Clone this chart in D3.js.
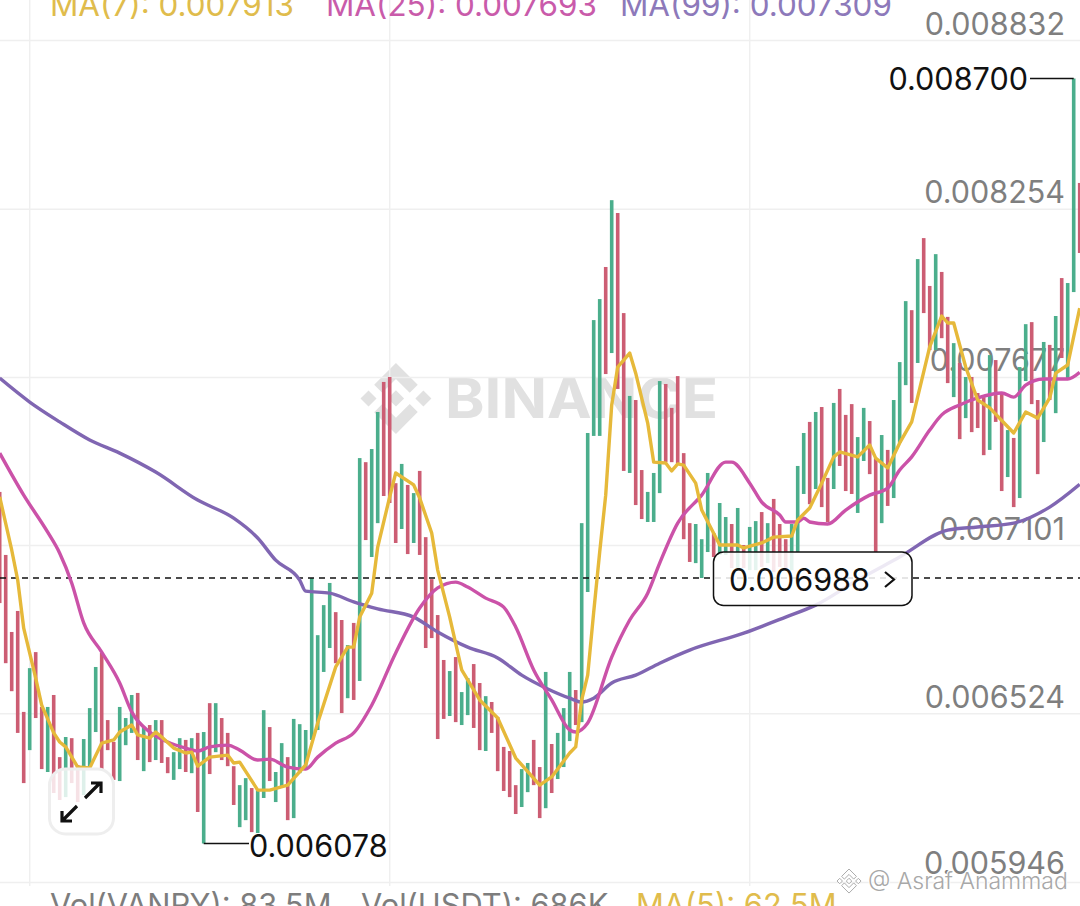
<!DOCTYPE html>
<html><head><meta charset="utf-8">
<style>html,body{margin:0;padding:0;background:#fff;overflow:hidden}svg{display:block}text{font-family:Inter,"Noto Sans",sans-serif}</style>
<script src="https://cdn.jsdelivr.net/npm/d3@7/dist/d3.min.js"></script>
</head><body><svg id="c" width="1080" height="906"></svg>
<script>
// prices are in millionths (0.006078 -> 6078)
const candleHigh=[7283,7067,6803,6875,6529,6679,6734,6546,6546,6587,
6374,6443,6439,6347,6436,6542,6683,6731,6501,6426,
6546,6508,6587,6594,6477,6484,6501,6501,6374,6391,
6439,6433,6439,6457,6460,6559,6559,6508,6457,6343,
6278,6302,6268,6261,6535,6477,6323,6422,6374,6505,
6487,6467,6988,6792,6895,6971,6871,6844,6758,6834,
7399,7385,7430,7557,7660,7677,7313,7379,7307,7279,
7355,7128,6984,6861,6707,6669,6717,6597,6645,6693,
6628,6583,6563,6511,6409,6395,6278,6333,6354,6433,
6340,6666,6419,6457,6542,6666,6604,7176,7485,7872,
7944,8054,8283,8239,7896,7612,7598,7358,7283,7348,
7663,7653,7571,7680,7416,7176,7173,7121,7348,7142,
7245,7197,7173,7228,7101,7163,7183,7214,7176,7259,
7173,7121,7173,7372,7485,7523,7557,7574,7331,7588,
7636,7547,7584,7471,7571,7526,7399,7478,7427,7598,
7728,7937,7906,8081,8153,7989,8098,8037,7883,7793,
7725,7677,7677,7622,7608,7752,7735,7622,7495,7468,
7711,7858,7865,7598,7797,7787,7886,8016,7999,8700,8342];
const candleLow=[6902,6696,6600,6457,6285,6398,6508,6333,6323,6251,
6227,6237,6285,6220,6244,6340,6460,6330,6398,6296,
6292,6415,6457,6364,6326,6357,6364,6354,6319,6296,
6333,6323,6319,6186,6078,6316,6391,6364,6343,6210,
6134,6158,6117,6114,6234,6292,6220,6271,6158,6165,
6319,6330,6433,6467,6666,6748,6696,6525,6576,6570,
6635,7118,7060,7176,7269,7245,7108,7156,7070,7108,
7067,6748,6782,6436,6505,6515,6494,6484,6518,6474,
6398,6395,6457,6326,6258,6237,6179,6203,6254,6278,
6165,6199,6251,6299,6340,6429,6484,6494,6940,7475,
7475,7687,7759,7636,7355,7348,7238,7190,7180,7180,
7279,7385,7385,7382,7121,7043,7039,6988,7077,7060,
7067,7067,7022,7022,7022,7015,7015,7026,7039,7008,
7026,7015,7015,7077,7276,7241,7293,7231,7180,7293,
7372,7286,7276,7211,7389,7344,7077,7176,7235,7262,
7451,7649,7588,7725,7896,7769,7769,7810,7656,7608,
7464,7536,7488,7502,7409,7427,7523,7286,7334,7231,
7262,7663,7584,7344,7454,7598,7553,7742,7673,7968,8102];
const candleDir=("rrrrrgrrgr"+"rgrrgggrrr"+"gggrgrgrrg"+"grgrgrgrrr"+"ggrggrggrg"+
"ggggggrrgr"+"grggrrrgrg"+"rrrrrgrggr"+"rgrrrrrggr"+"rgrgggrggg"+
"grgrrgrrgg"+"grrrrrgggr"+"ggrgrggrgr"+"rrgggrgrrg"+"rrrggrrgrg"+
"ggrgrrgrrg"+"rgrrrgrrgr"+"ggrrgrgrggr").split("");

const ma7Idx=[0,2,3,4,6,7,9,10,11,13,15,17,19,20,22,23,25,26,27,29,31,32,33,35,38,39,40,43,45,48,51,53,56,58,59,60,62,63,65,66,69,70,72,73,75,77,80,83,86,90,92,95,96,97,98,99,100,101,102,103,105,106,108,109,111,112,113,114,116,117,120,123,124,127,129,132,133,135,137,139,140,143,145,146,148,150,152,155,157,158,159,161,163,165,169,171,173,175,176,178,180];
const ma7Val=[7266,7084,6981,6816,6645,6552,6457,6426,6409,6340,6337,6422,6433,6460,6484,6450,6439,6460,6443,6405,6388,6391,6343,6374,6381,6354,6357,6261,6261,6278,6347,6491,6683,6751,6751,6854,6936,7094,7266,7348,7307,7262,7142,7015,6854,6673,6570,6508,6371,6278,6306,6388,6409,6570,6655,6871,7077,7272,7581,7711,7759,7690,7519,7385,7382,7355,7379,7375,7313,7221,7101,7101,7091,7108,7128,7132,7187,7228,7313,7403,7420,7403,7444,7399,7365,7451,7523,7780,7886,7862,7862,7711,7598,7571,7485,7557,7536,7605,7690,7718,7913];

const ma25Idx=[0,4,8,10,12,14,17,20,22,25,28,31,33,35,38,40,43,45,48,51,53,56,59,62,66,70,73,76,78,81,84,86,89,92,95,96,98,102,105,108,110,113,117,121,122,125,127,130,131,133,134,135,138,141,145,148,150,152,155,157,160,163,167,169,171,174,178,180];
const ma25Val=[7416,7272,7145,7073,6971,6834,6734,6628,6529,6460,6426,6405,6395,6409,6415,6398,6364,6367,6340,6333,6374,6422,6457,6552,6731,6885,6954,6974,6957,6919,6888,6820,6673,6570,6467,6460,6491,6717,6844,6936,7039,7176,7272,7385,7385,7313,7248,7204,7180,7180,7193,7180,7173,7221,7272,7296,7358,7403,7495,7547,7581,7605,7622,7608,7649,7670,7670,7693];

const ma99Idx=[0,5,10,15,20,26,33,39,43,46,50,51,55,59,63,69,73,78,83,87,91,95,97,99,102,106,110,115,124,131,136,143,150,158,163,169,175,180];
const ma99Val=[7673,7591,7523,7461,7416,7351,7255,7193,7125,7049,6981,6943,6936,6906,6882,6854,6803,6751,6714,6655,6611,6576,6563,6576,6628,6655,6696,6741,6799,6854,6895,6981,7060,7152,7163,7176,7231,7309];

const tickLabels=["0.008832","0.008254","0.007677","0.007101","0.006524","0.005946"];
const lastPrice=6988, peakPrice=8700, troughPrice=6078;
const peakIdx=179, troughIdx=34;
const gridCandles=[5,65,125];
const legendTop=[["MA(7): 0.007913","#E0BC4C",50],["MA(25): 0.007693","#C95BAA",326],["MA(99): 0.007309","#8D79BA",620]];
const legendBottom=[["Vol(VANRY): 83.5M","#7d7d7d",50],["Vol(USDT): 686K","#7d7d7d",361],["MA(5): 62.5M","#E0BC4C",636]];

const UP="#4BAE8C",DOWN="#CC5D73",YEL="#E6B93A",PNK="#CB52A8",PUR="#8066B2";
const svg=d3.select("#c");
const x=d3.scaleLinear().domain([0,180]).range([-0.3,1079.7]);
const y=d3.scaleLinear().domain([5946,8832]).range([882,40]);

// watermark
const LOGO="M38.73 53.2L63.3 28.63l24.6 24.6 14.3-14.3L63.3 0 24.43 38.87l14.3 14.33z M0 63.31l14.31-14.31 14.31 14.31-14.31 14.31z M38.73 73.41L63.3 97.98l24.6-24.6 14.3 14.29-.01.01L63.3 126.61 24.43 87.75l-.02-.02 14.32-14.32z M97.99 63.31l14.31-14.31 14.31 14.31-14.31 14.31z M77.83 63.3L63.3 48.78 52.56 59.52l-1.24 1.23-2.54 2.55 14.52 14.52 14.53-14.52z";
svg.append("path").attr("d",LOGO).attr("transform","translate(360.5,363) scale(0.56)").attr("fill","#e1e1e1");
svg.append("text").text("BINANCE").attr("x",445).attr("y",418).attr("font-size",55).attr("font-weight",700)
  .attr("fill","#e1e1e1").attr("textLength",273).attr("lengthAdjust","spacingAndGlyphs");

// grid & axis labels
svg.append("g").selectAll("line").data(gridCandles).join("line")
  .attr("x1",d=>x(d)).attr("x2",d=>x(d)).attr("y1",0).attr("y2",886).attr("stroke","#efefef").attr("stroke-width",1.5);
const axis=d3.axisRight(y).tickValues(tickLabels.map(s=>+s*1e6)).tickSize(1080).tickPadding(0)
  .tickFormat((d,i)=>tickLabels[i]);
const ag=svg.append("g").call(axis);
ag.select(".domain").remove();
ag.selectAll("line").attr("stroke","#efefef").attr("stroke-width",1.5);
ag.selectAll("text").attr("x",1065).attr("dy",0).attr("y",(d,i)=>i==5?-9:-6).attr("text-anchor","end")
  .attr("font-size",30.5).attr("font-family","Inter").attr("fill","#7f7f7f");

// legends
const legend=(rows,yy,fs)=>svg.append("g").selectAll("text").data(rows).join("text")
  .text(d=>d[0]).attr("x",d=>d[2]).attr("y",yy).attr("fill",d=>d[1]).attr("font-size",fs);
legend(legendTop,16,31.4);
legend(legendBottom,916,30.8);

// candles
svg.append("g").selectAll("rect").data(candleHigh).join("rect")
  .attr("x",(d,i)=>x(i)-1.8).attr("width",3.6)
  .attr("y",d=>y(d)).attr("height",(d,i)=>y(candleLow[i])-y(d))
  .attr("fill",(d,i)=>candleDir[i]=="g"?UP:DOWN);

// dashed last-price line
svg.append("line").attr("x1",0).attr("x2",1080).attr("y1",y(lastPrice)).attr("y2",y(lastPrice))
  .attr("stroke","#111").attr("stroke-width",1.6).attr("stroke-dasharray","6 5");

// moving averages
const draw=(idx,val,col,curve)=>svg.append("path")
  .attr("d",d3.line().x(d=>x(d[0])).y(d=>y(d[1])).curve(curve)(idx.map((k,i)=>[k,val[i]])))
  .attr("fill","none").attr("stroke",col).attr("stroke-width",3.4).attr("stroke-linejoin","round");
draw(ma99Idx,ma99Val,PUR,d3.curveMonotoneX);
draw(ma25Idx,ma25Val,PNK,d3.curveMonotoneX);
draw(ma7Idx,ma7Val,YEL,d3.curveLinear);

// high / low callouts
svg.append("path").attr("fill","none").attr("stroke","#111").attr("stroke-width",1.5)
  .attr("d",`M1030 ${y(peakPrice)}H${x(peakIdx)}`);
svg.append("path").attr("fill","none").attr("stroke","#111").attr("stroke-width",1.5)
  .attr("d",`M${x(troughIdx)} ${y(troughPrice)}H249`);
svg.append("text").text("0.008700").attr("x",1028).attr("y",90).attr("text-anchor","end").attr("font-size",30.6).attr("fill","#111");
svg.append("text").text("0.006078").attr("x",249).attr("y",857).attr("font-size",30.6).attr("fill","#111");

// last-price tag
svg.append("rect").attr("x",713.5).attr("y",552).attr("width",198.5).attr("height",53.5).attr("rx",10)
  .attr("fill","rgba(255,255,255,0.86)").attr("stroke","#111").attr("stroke-width",1.5);
svg.append("text").text("0.006988").attr("x",729).attr("y",591).attr("font-size",30.6).attr("fill","#111");
svg.append("path").attr("d","M885 572L894 579.5L885 587").attr("fill","none").attr("stroke","#111").attr("stroke-width",2.2);

// expand button
svg.append("rect").attr("x",49.5).attr("y",769).attr("width",64).attr("height",65).attr("rx",16)
  .attr("fill","rgba(255,255,255,0.82)").attr("stroke","#eeeeee").attr("stroke-width",3);
svg.append("path").attr("fill","none").attr("stroke","#111").attr("stroke-width",3.2)
  .attr("d","M85 798L100 783M91 783H101V793M77 806L62 821M62 811V821H72");

// author watermark
const wm=svg.append("g");
wm.append("path").attr("d",LOGO).attr("transform","translate(837,869) scale(0.19)")
  .attr("fill","#fff").attr("stroke","#a8a8a8").attr("stroke-width",5);
wm.append("text").text("@ Asraf Anammad").attr("x",868).attr("y",889).attr("font-size",23).attr("font-weight",300)
  .attr("fill","#a8a8a8").attr("stroke","#fff").attr("stroke-width",2).attr("paint-order","stroke");
</script></body></html>
